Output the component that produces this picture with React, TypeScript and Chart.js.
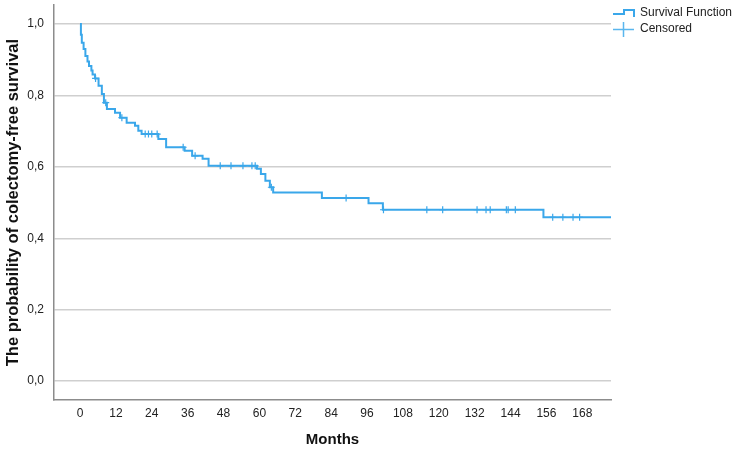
import React, { useEffect, useRef } from "react";
import { Chart, registerables } from "chart.js";

Chart.register(...registerables);

// Kaplan-Meier step curve: event times (months) and survival after each step
const stepTimes = [0, 0.3, 0.6, 1.2, 1.8, 2.5, 3.0, 3.8, 4.2, 5.0, 6.2, 7.3, 8.0, 9.0, 11.7, 13.4, 15.6, 18.4, 19.5, 20.6, 26.2, 28.8, 35, 37.5, 41, 43, 59.2, 60.5, 62, 63.5, 64.6, 80.9, 96.5, 101.3, 155, 177.6];
const survival = [1.0, 0.97, 0.948, 0.93, 0.911, 0.895, 0.883, 0.87, 0.859, 0.848, 0.827, 0.804, 0.78, 0.762, 0.752, 0.738, 0.724, 0.715, 0.701, 0.692, 0.678, 0.655, 0.645, 0.631, 0.623, 0.603, 0.595, 0.58, 0.561, 0.543, 0.528, 0.513, 0.498, 0.48, 0.459, 0.459];

// Censored observation times (months)
const censorTimes = [5.2, 8.6, 14, 21.8, 22.9, 24, 25.8, 34.5, 38.5, 46.9, 50.5, 54.5, 57.5, 58.6, 64, 89, 101.5, 116, 121.3, 132.8, 135.8, 137.2, 142.6, 143.2, 145.6, 158.1, 161.5, 164.9, 167.1];

const xTicks = [0, 12, 24, 36, 48, 60, 72, 84, 96, 108, 120, 132, 144, 156, 168];
const yTicks = [0, 0.2, 0.4, 0.6, 0.8, 1.0];

const legendLabels = ["Survival Function", "Censored"];
const xTitle = "Months";
const yTitle = "The probability of colectomy-free survival";

const LINE_COLOR = "#3aa7ea";
const FONT = "'Liberation Sans', Arial, sans-serif";

function survivalAt(t: number): number {
  let s = survival[0];
  for (let i = 0; i < stepTimes.length; i++) {
    if (stepTimes[i] <= t) s = survival[i];
  }
  return s;
}

const legendPlugin = {
  id: "kmLegend",
  afterDraw(chart: any) {
    const ctx = chart.ctx as CanvasRenderingContext2D;
    ctx.save();
    ctx.setLineDash([]);
    // step icon
    ctx.strokeStyle = LINE_COLOR;
    ctx.lineWidth = 2;
    ctx.beginPath();
    ctx.moveTo(613, 14);
    ctx.lineTo(624, 14);
    ctx.lineTo(624, 10);
    ctx.lineTo(634, 10);
    ctx.lineTo(634, 17);
    ctx.stroke();
    // censor icon
    ctx.strokeStyle = "#5ab6ee";
    ctx.lineWidth = 1.5;
    ctx.beginPath();
    ctx.moveTo(613, 29.5);
    ctx.lineTo(634, 29.5);
    ctx.moveTo(623.5, 22);
    ctx.lineTo(623.5, 37);
    ctx.stroke();
    ctx.fillStyle = "#222";
    ctx.font = `12px ${FONT}`;
    ctx.textBaseline = "middle";
    ctx.textAlign = "left";
    ctx.fillText(legendLabels[0], 640, 13);
    ctx.fillText(legendLabels[1], 640, 29);
    ctx.restore();
  },
};

export default function App() {
  const ref = useRef<HTMLCanvasElement | null>(null);

  useEffect(() => {
    document.body.style.margin = "0";
    if (!ref.current) return;
    const lineData = stepTimes.map((t, i) => ({ x: t, y: survival[i] }));
    const censorData = censorTimes.map((t) => ({ x: t, y: survivalAt(t) }));

    const chart = new Chart(ref.current, {
      type: "line",
      data: {
        datasets: [
          {
            label: legendLabels[0],
            data: lineData,
            stepped: true,
            borderColor: LINE_COLOR,
            borderWidth: 2,
            pointRadius: 0,
            fill: false,
          },
          {
            label: legendLabels[1],
            data: censorData,
            showLine: false,
            pointStyle: "cross",
            pointRadius: 3.5,
            pointBorderWidth: 1.2,
            pointBorderColor: LINE_COLOR,
            pointBackgroundColor: LINE_COLOR,
          },
        ],
      },
      options: {
        animation: false,
        responsive: true,
        maintainAspectRatio: false,
        layout: { padding: { top: 3, right: 126, bottom: 0, left: 0 } },
        plugins: {
          legend: { display: false },
          tooltip: { enabled: false },
        },
        scales: {
          x: {
            type: "linear",
            min: -8.7,
            max: 177.6,
            afterBuildTicks: (scale: any) => {
              scale.ticks = xTicks.map((v) => ({ value: v }));
            },
            afterFit: (scale: any) => {
              scale.height = 49;
              scale.paddingLeft = 0;
              scale.paddingRight = 0;
            },
            grid: { display: false, drawTicks: false },
            border: { display: true, color: "#8c8c8c", width: 1.5 },
            ticks: {
              padding: 6,
              color: "#222",
              font: { family: FONT, size: 12 },
              maxRotation: 0,
              autoSkip: false,
              callback: (v: any) => String(v),
            },
            title: {
              display: true,
              text: xTitle,
              color: "#111",
              font: { family: FONT, size: 15, weight: "bold" },
              padding: { top: 0, bottom: 0 },
            },
          },
          y: {
            type: "linear",
            min: -0.053,
            max: 1.053,
            afterBuildTicks: (scale: any) => {
              scale.ticks = yTicks.map((v) => ({ value: v }));
            },
            afterFit: (scale: any) => {
              scale.width = 54;
              scale.paddingTop = 0;
              scale.paddingBottom = 0;
            },
            grid: { display: true, drawTicks: false, color: "#cfcfcf", lineWidth: 1.5 },
            border: { display: true, color: "#8c8c8c", width: 1.5 },
            ticks: {
              padding: 10,
              color: "#222",
              font: { family: FONT, size: 12 },
              callback: (v: any) => Number(v).toFixed(1).replace(".", ","),
            },
            title: {
              display: true,
              text: yTitle,
              color: "#111",
              font: { family: FONT, size: 16.5, weight: "bold" },
              padding: { top: 4, bottom: 0 },
            },
          },
        },
      },
      plugins: [legendPlugin],
    });
    return () => chart.destroy();
  }, []);

  return (
    <div style={{ position: "relative", width: 737, height: 449 }}>
      <canvas ref={ref} />
    </div>
  );
}
